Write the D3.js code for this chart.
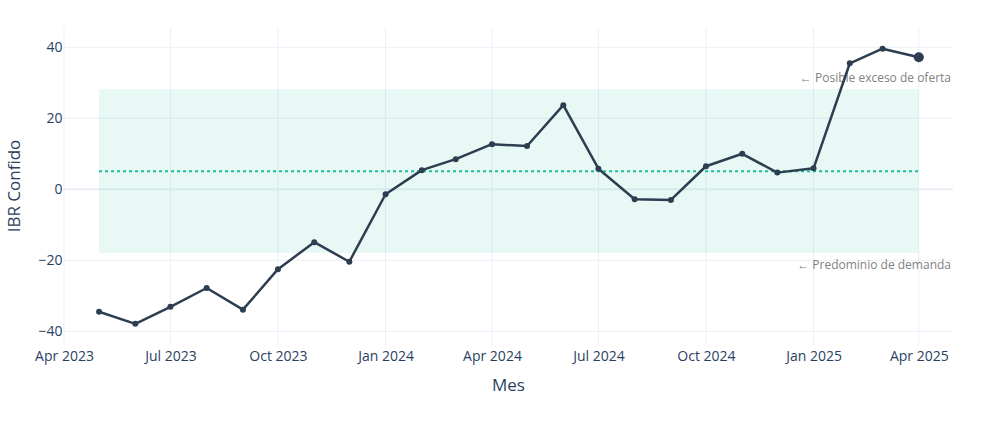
<!DOCTYPE html>
<html>
<head>
<meta charset="utf-8">
<script src="https://cdn.jsdelivr.net/npm/d3@7"></script>
<style>
  html, body { margin: 0; padding: 0; background: #fff; }
  svg { display: block; font-family: "Open Sans", sans-serif; }
</style>
</head>
<body>
<svg id="chart" width="983" height="434"></svg>
<script>
// ---- data ----
const months = ["2023-05","2023-06","2023-07","2023-08","2023-09","2023-10","2023-11","2023-12",
                "2024-01","2024-02","2024-03","2024-04","2024-05","2024-06","2024-07","2024-08",
                "2024-09","2024-10","2024-11","2024-12","2025-01","2025-02","2025-03","2025-04"];
const ibrValues = [-34.5,-37.9,-33.1,-27.8,-33.9,-22.5,-14.9,-20.4,
                   -1.4,5.4,8.5,12.7,12.2,23.7,5.8,-2.8,
                   -3.0,6.5,10.0,4.7,5.9,35.5,39.6,37.2];
const xTickDates = ["2023-04","2023-07","2023-10","2024-01","2024-04","2024-07","2024-10","2025-01","2025-04"];
const xTickLabels = ["Apr 2023","Jul 2023","Oct 2023","Jan 2024","Apr 2024","Jul 2024","Oct 2024","Jan 2025","Apr 2025"];
const yTickValues = [-40,-20,0,20,40];
const medianLine = 5.1;
const bandRange = [-17.9, 28.2];
const annotations = ["← Posible exceso de oferta", "← Predominio de demanda"];
const xTitle = "Mes";
const yTitle = "IBR Confido";

// ---- layout ----
const parse = d3.timeParse("%Y-%m");
const svg = d3.select("#chart");
const L = 64, R = 953, T = 27, B = 345;
const x = d3.scaleTime()
  .domain([new Date(2023, 3, 1), new Date(2025, 3, 30, 6)])
  .range([L, R]);
const y = d3.scaleLinear().domain([-43.86, 45.72]).range([B, T]);

const data = months.map((m, i) => ({ date: parse(m), value: ibrValues[i] }));
const gridColor = "#ebf0f8";
const textColor = "#2a3f5f";

// grid
const g = svg.append("g");
g.selectAll(".vg").data(xTickDates.map(parse)).enter().append("line")
  .attr("x1", d => x(d)).attr("x2", d => x(d)).attr("y1", T).attr("y2", B)
  .attr("stroke", gridColor).attr("stroke-width", 1);
g.selectAll(".hg").data(yTickValues).enter().append("line")
  .attr("x1", L).attr("x2", R).attr("y1", d => y(d)).attr("y2", d => y(d))
  .attr("stroke", gridColor).attr("stroke-width", d => d === 0 ? 2 : 1);

// band
svg.append("rect")
  .attr("x", x(data[0].date)).attr("width", x(data[data.length - 1].date) - x(data[0].date))
  .attr("y", y(bandRange[1])).attr("height", y(bandRange[0]) - y(bandRange[1]))
  .attr("fill", "rgb(26,188,156)").attr("fill-opacity", 0.1);

// median line
svg.append("line")
  .attr("x1", x(data[0].date)).attr("x2", x(data[data.length - 1].date))
  .attr("y1", y(medianLine)).attr("y2", y(medianLine))
  .attr("stroke", "#1abc9c").attr("stroke-width", 2).attr("stroke-dasharray", "3,3");

// annotations
svg.append("text").attr("x", 951).attr("y", y(bandRange[1]) - 7)
  .attr("text-anchor", "end").attr("font-size", 12).attr("fill", "#7f7f7f").text(annotations[0]);
svg.append("text").attr("x", 951).attr("y", y(bandRange[0]) + 16)
  .attr("text-anchor", "end").attr("font-size", 12).attr("fill", "#7f7f7f").text(annotations[1]);

// axes
const xAxis = d3.axisBottom(x).tickValues(xTickDates.map(parse))
  .tickFormat((d, i) => xTickLabels[i]).tickSize(0).tickPadding(0);
const xa = svg.append("g").attr("transform", `translate(0,${B})`).call(xAxis);
xa.select(".domain").remove();
xa.selectAll("text").attr("dy", null).attr("y", 16).attr("font-size", 14)
  .attr("fill", textColor).attr("font-family", "Open Sans");

const yAxis = d3.axisLeft(y).tickValues(yTickValues).tickSize(0).tickPadding(0);
const ya = svg.append("g").attr("transform", `translate(${L - 1.5},0)`).call(yAxis);
ya.select(".domain").remove();
ya.selectAll("text").attr("font-size", 14).attr("fill", textColor).attr("font-family", "Open Sans");

// line
svg.append("path").datum(data)
  .attr("d", d3.line().x(d => x(d.date)).y(d => y(d.value)))
  .attr("fill", "none").attr("stroke", "#2c3e50").attr("stroke-width", 2.5)
  .attr("stroke-linejoin", "round");
svg.selectAll(".pt").data(data).enter().append("circle")
  .attr("cx", d => x(d.date)).attr("cy", d => y(d.value))
  .attr("r", (d, i) => i === data.length - 1 ? 5 : 3)
  .attr("fill", "#2c3e50");

// titles
svg.append("text").attr("x", (L + R) / 2).attr("y", 391).attr("text-anchor", "middle")
  .attr("font-size", 17).attr("fill", textColor).text(xTitle);
svg.append("text").attr("transform", `translate(20,${(T + B) / 2}) rotate(-90)`)
  .attr("text-anchor", "middle").attr("font-size", 17).attr("fill", textColor).text(yTitle);
</script>
</body>
</html>
